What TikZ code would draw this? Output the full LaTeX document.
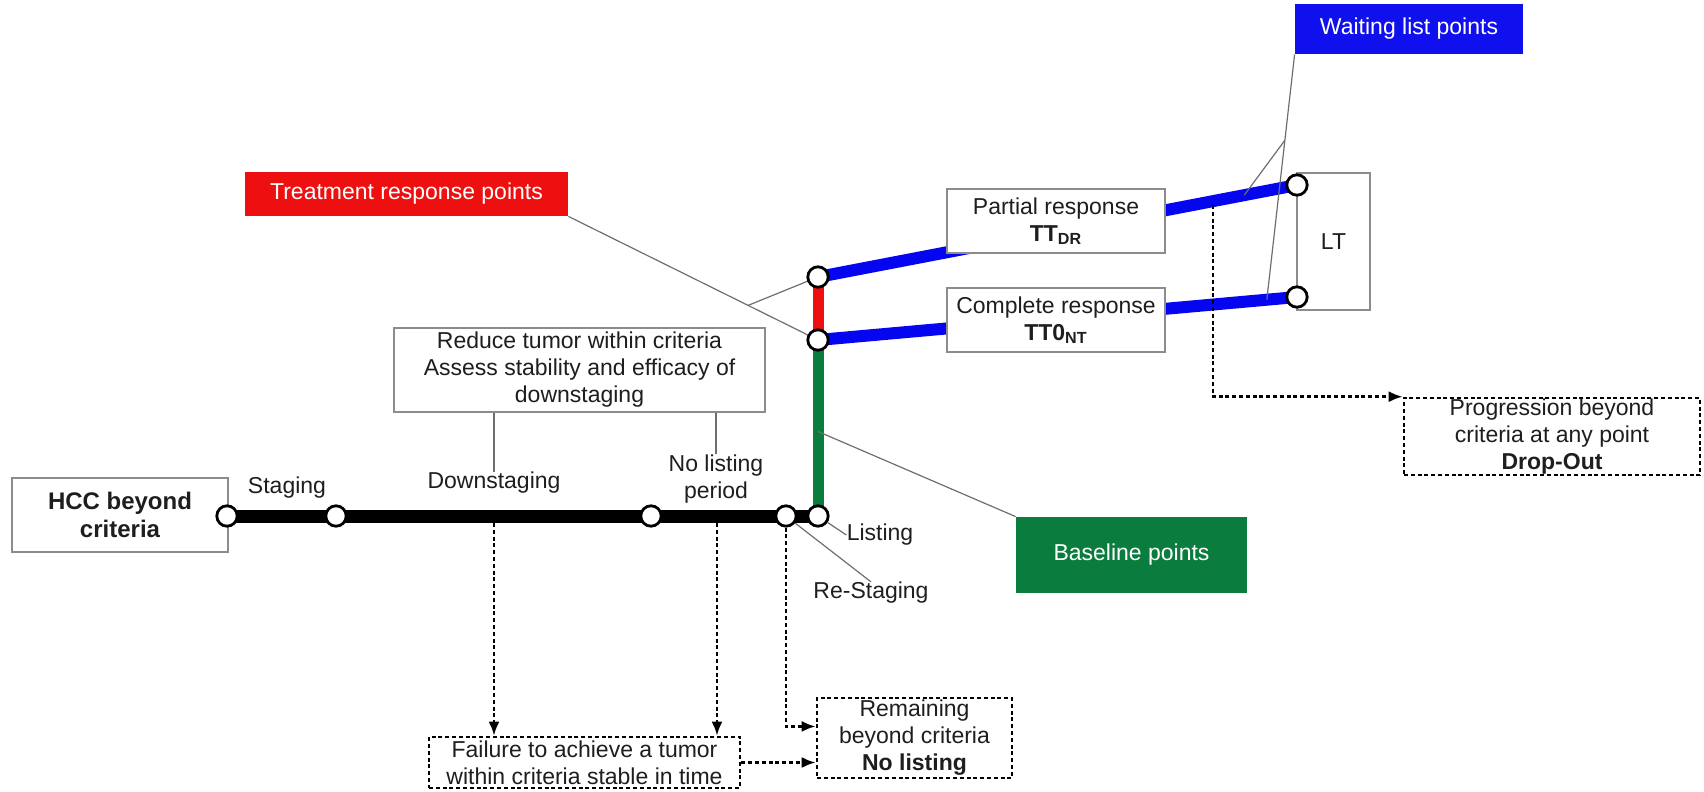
\documentclass[tikz,border=0pt]{standalone}
\usepackage{fontspec}
\setmainfont{Liberation Sans}
\usetikzlibrary{arrows.meta,calc}
\pgfdeclarelayer{bg}
\pgfsetlayers{bg,main}
\definecolor{tred}{RGB}{238,16,16}
\definecolor{wblue}{RGB}{16,16,238}
\definecolor{lblue}{RGB}{5,5,240}
\definecolor{bgreen}{RGB}{10,125,62}
\definecolor{boxgray}{RGB}{140,140,140}
\definecolor{leadgray}{RGB}{110,110,110}
\definecolor{txt}{RGB}{30,30,30}
\begin{document}
\begin{tikzpicture}[x=0.5pt,y=-0.5pt,
  every node/.style={font=\fontsize{11.5}{13.5}\selectfont, text=txt, align=center, inner sep=0pt},
  box/.style={draw=boxgray, line width=0.7pt, fill=white},
  dotbox/.style={draw=black, line width=1.3pt, dash pattern=on 2pt off 1.4pt, fill=white},
  tag/.style={text=white},
  stopc/.style={circle, draw=black, line width=1.4pt, fill=white, minimum size=10.2pt},
  leader/.style={draw=leadgray, line width=0.6pt},
  dotarrow/.style={draw=black, line width=1.3pt, dash pattern=on 2pt off 1.4pt, -{Latex[length=7pt,width=5.5pt]}},
  track/.style={line width=6.5pt, draw=black},
  wtrack/.style={line width=6pt, draw=lblue},
  vtrack/.style={line width=5.5pt}
]
\useasboundingbox (0,0) rectangle (1704,792);

% boxes
\node[box, minimum width=108pt, minimum height=37pt, font=\fontsize{12}{14}\selectfont\bfseries] (hcc) at (120,515) {HCC beyond\\criteria};
\node[box, minimum width=185.5pt, minimum height=42pt] (reduce) at (579.5,370) {Reduce tumor within criteria\\Assess stability and efficacy of\\downstaging};
\node[tag, fill=tred, minimum width=161.5pt, minimum height=22pt] (treat) at (406.5,194) {Treatment response points};
\node[tag, fill=wblue, minimum width=114pt, minimum height=25pt] (wait) at (1409,29) {Waiting list points};
\node[tag, fill=bgreen, minimum width=115.5pt, minimum height=38pt] (base) at (1131.5,555) {Baseline points};
\node[box, minimum width=109pt, minimum height=32pt] (pr) at (1056,221) {Partial response\\\textbf{TT\textsubscript{DR}}};
\node[box, minimum width=109pt, minimum height=32pt] (cr) at (1056,320) {Complete response\\\textbf{TT0\textsubscript{NT}}};
\node[draw=boxgray, line width=0.7pt, minimum width=36.5pt, minimum height=68.5pt] (lt) at (1333.5,241.5) {LT};
\node[dotbox, minimum width=148pt, minimum height=38.5pt] (drop) at (1552,436.5) {Progression beyond\\criteria at any point\\\textbf{Drop-Out}};
\node[dotbox, minimum width=155.5pt, minimum height=25.5pt] (fail) at (584.5,762.5) {Failure to achieve a tumor\\within criteria stable in time};
\node[dotbox, minimum width=97.5pt, minimum height=40pt] (rem) at (914.5,738) {Remaining\\beyond criteria\\\textbf{No listing}};

% labels
\node (stg) at (287,488) {Staging};
\node (dstg) at (494,483) {Downstaging};
\node (nlp) at (716,479) {No listing\\period};
\node (lst) at (880,535) {Listing};
\node (rstg) at (871,593) {Re-Staging};

% stops
\node[stopc] (c1) at (227,516) {};
\node[stopc] (c2) at (336,516) {};
\node[stopc] (c3) at (651,516) {};
\node[stopc] (c4) at (786,516) {};
\node[stopc] (c5) at (818,516) {};
\node[stopc] (t0) at (818,340) {};
\node[stopc] (t1) at (818,277) {};
\node[stopc] (w1) at (1297,185) {};
\node[stopc] (w0) at (1297,297) {};

% helper coordinates
\coordinate (j1) at ($(treat.south east)!0.72!(t0.center)$);
\coordinate (wl0) at ($(t0.center)!0.937!(w0.center)$);
\coordinate (wl1) at ($(t1.center)!0.89!(w1.center)$);
\coordinate (j2) at ($(wait.south west)!0.35!(wl0)$);
\coordinate (gl) at ($(c5.center)!0.48!(t0.center)$);
\coordinate (d1) at (494,523);
\coordinate (d2) at (717,523);
\coordinate (d5) at (1213,205);

\begin{pgfonlayer}{bg}
  \draw[track] (c1.center) -- (c2.center) -- (c3.center) -- (c4.center) -- (c5.center);
  \draw[vtrack, draw=bgreen] (c5.center) -- (t0.center);
  \draw[vtrack, draw=tred] (t0.center) -- (t1.center);
  \draw[wtrack] (t1.center) -- (w1.center);
  \draw[wtrack] (t0.center) -- (w0.center);
  \draw[leader] (w1) -- (w0);
  % leaders
  \draw[leader] (reduce.south -| dstg.north) -- (dstg.north);
  \draw[leader] (reduce.south -| nlp.north) -- (nlp.north);
  \draw[leader] (treat.south east) -- (t0);
  \draw[leader] (j1) -- (t1);
  \draw[leader] (wait.south west) -- (wl0);
  \draw[leader] (j2) -- (wl1);
  \draw[leader] (gl) -- (base.north west);
  \draw[leader] (c5) -- (lst.west);
  \draw[leader] (c4) -- (rstg.north);
\end{pgfonlayer}

% dotted arrows
\draw[dotarrow] (d1) -- (d1 |- fail.north);
\draw[dotarrow] (d2) -- (d2 |- fail.north);
\draw[dotarrow] (c4.south) |- ($(rem.north west)!0.36!(rem.south west)$);
\draw[dotarrow] (fail.east) -- (fail.east -| rem.west);
\draw[dotarrow] (d5) |- (drop.north west);
\end{tikzpicture}
\end{document}
